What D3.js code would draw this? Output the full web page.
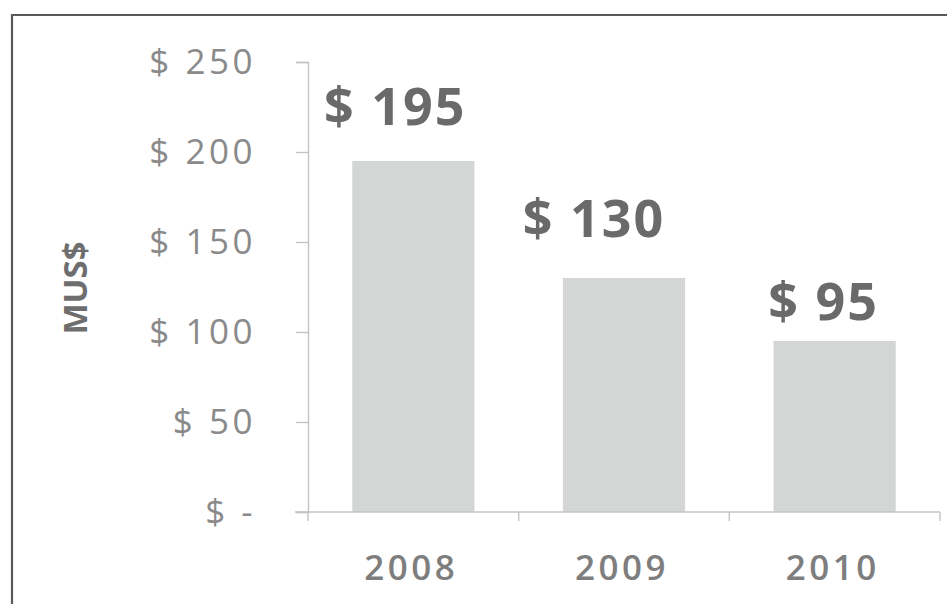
<!DOCTYPE html>
<html>
<head>
<meta charset="utf-8">
<script src="https://cdn.jsdelivr.net/npm/d3@7"></script>
<style>
  html, body { margin: 0; padding: 0; background: #fff; }
  svg { display: block; }
</style>
</head>
<body>
<svg id="chart" width="947" height="604"></svg>
<script>
// Annual amounts in millions of US dollars
const years = ["2008", "2009", "2010"];
const amounts = [195, 130, 95];
const yTickValues = [0, 50, 100, 150, 200, 250];
const yTickLabels = ["$ -", "$ 50", "$ 100", "$ 150", "$ 200", "$ 250"];
const axisTitle = "MUS$";

const svg = d3.select("#chart");
const W = 947, H = 604;
const plot = { left: 308, right: 940, top: 62, bottom: 512 };

// Frame around the chart area
svg.append("path")
  .attr("d", `M12,${H} L12,15 L${W},15`)
  .attr("fill", "none")
  .attr("stroke", "#5a5a5a")
  .attr("stroke-width", 2.2);

const x = d3.scaleBand()
  .domain(years)
  .range([plot.left, plot.right])
  .paddingInner(0.42)
  .paddingOuter(0.21);

const y = d3.scaleLinear()
  .domain([0, 250])
  .range([plot.bottom, plot.top]);

// Bars
svg.append("g")
  .selectAll("rect")
  .data(amounts)
  .join("rect")
  .attr("x", (d, i) => x(years[i]))
  .attr("y", d => y(d))
  .attr("width", x.bandwidth())
  .attr("height", d => y(0) - y(d))
  .attr("fill", "#d4d6d6");

// Y axis
const yAxis = d3.axisLeft(y)
  .tickValues(yTickValues)
  .tickFormat((d, i) => yTickLabels[i])
  .tickSize(12)
  .tickPadding(40);

const gy = svg.append("g")
  .attr("transform", `translate(${plot.left},0)`)
  .call(yAxis);
gy.select(".domain").attr("stroke", "#c4c4c4").attr("stroke-width", 1.4);
gy.selectAll(".tick line").attr("stroke", "#c4c4c4").attr("stroke-width", 1.4);
gy.selectAll(".tick text")
  .attr("fill", "#8a8a8a")
  .style("font-family", "'Open Sans', sans-serif")
  .style("font-size", "35px")
  .style("letter-spacing", "3.5px");

// X axis: category boundaries get ticks, labels sit under each band
const xBoundaryScale = d3.scaleLinear().domain([0, years.length]).range([plot.left, plot.right]);
const gx = svg.append("g")
  .attr("transform", `translate(0,${plot.bottom})`);
gx.append("line")
  .attr("x1", plot.left - 13).attr("x2", plot.right)
  .attr("stroke", "#c4c4c4").attr("stroke-width", 1.6);
gx.selectAll("line.tk")
  .data(d3.range(years.length + 1))
  .join("line")
  .attr("class", "tk")
  .attr("x1", d => xBoundaryScale(d)).attr("x2", d => xBoundaryScale(d))
  .attr("y1", 0).attr("y2", 9)
  .attr("stroke", "#c4c4c4").attr("stroke-width", 1.4);
gx.selectAll("text")
  .data(years)
  .join("text")
  .attr("x", d => x(d) + x.bandwidth() / 2 - 2)
  .attr("y", 68)
  .attr("text-anchor", "middle")
  .attr("fill", "#7e7e7e")
  .style("font-family", "'Open Sans', sans-serif")
  .style("font-size", "35px")
  .style("font-weight", "600")
  .style("letter-spacing", "3.5px")
  .text(d => d);

// Value labels above the bars
const labelLift = [36, 41, 21];
const labelShift = [-18, -30, -11];
svg.append("g")
  .selectAll("text")
  .data(amounts)
  .join("text")
  .attr("x", (d, i) => x(years[i]) + x.bandwidth() / 2 + labelShift[i])
  .attr("y", (d, i) => y(d) - labelLift[i])
  .attr("text-anchor", "middle")
  .attr("fill", "#6a6a6a")
  .style("font-family", "'Open Sans', sans-serif")
  .style("font-size", "52px")
  .style("font-weight", "700")
  .style("letter-spacing", "2px")
  .text(d => "$ " + d);

// Axis title
svg.append("text")
  .attr("transform", "translate(87,288) rotate(-90)")
  .attr("text-anchor", "middle")
  .attr("fill", "#6e6e6e")
  .style("font-family", "'Open Sans', sans-serif")
  .style("font-size", "33px")
  .style("font-weight", "700")
  .text(axisTitle);
</script>
</body>
</html>
